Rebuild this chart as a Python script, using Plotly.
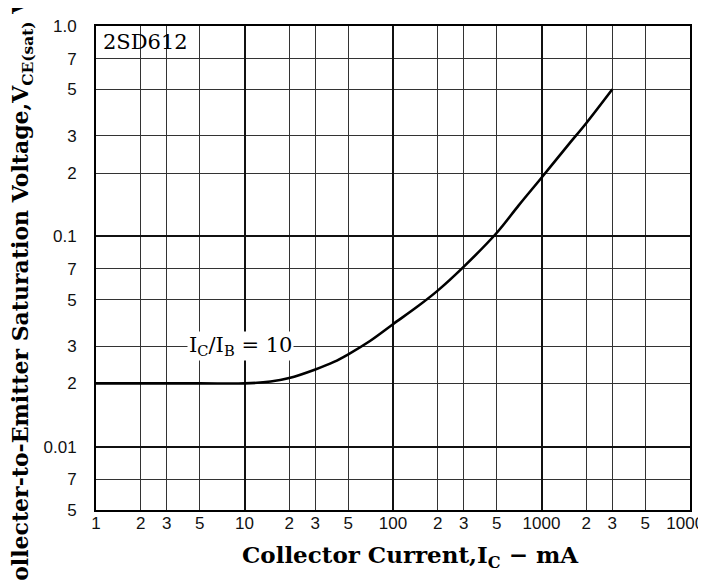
import plotly.graph_objects as go
import numpy as np

# Data
ic_ma = [1, 5, 10, 15, 20, 30, 40, 50, 70, 100, 150, 200, 300, 500, 700, 1000, 1500, 2000, 3000]
vce_sat = [0.02, 0.02, 0.0200, 0.0204, 0.0212, 0.0233, 0.0253, 0.0275, 0.0318, 0.0382, 0.047,
           0.0552, 0.0718, 0.104, 0.140, 0.19, 0.27, 0.345, 0.5]

x_tickvals = [1, 2, 3, 5, 10, 20, 30, 50, 100, 200, 300, 500, 1000, 2000, 3000, 5000, 10000]
x_ticktext = ["1", "2", "3", "5", "10", "2", "3", "5", "100", "2", "3", "5", "1000", "2", "3", "5", "10000"]
y_tickvals = [0.005, 0.007, 0.01, 0.02, 0.03, 0.05, 0.07, 0.1, 0.2, 0.3, 0.5, 0.7, 1.0]
y_ticktext = ["5", "7", "0.01", "2", "3", "5", "7", "0.1", "2", "3", "5", "7", "1.0"]
x_decades = [10, 100, 1000]
y_decades = [0.01, 0.1]

fig = go.Figure()
fig.add_trace(go.Scatter(x=ic_ma, y=vce_sat, mode="lines",
                         line=dict(color="black", width=2.6, shape="spline", smoothing=1.0),
                         showlegend=False, hoverinfo="skip"))
# invisible trace on overlay axes (for heavier decade gridlines)
fig.add_trace(go.Scatter(x=[1], y=[0.01], xaxis="x2", yaxis="y2", mode="markers",
                         marker=dict(opacity=0), showlegend=False, hoverinfo="skip"))

tickfont = dict(family="Liberation Sans", size=17, color="#111")
serif = "DejaVu Serif"

fig.update_layout(
    width=698, height=573,
    margin=dict(l=88, r=16, t=18, b=71, autoexpand=False),
    paper_bgcolor="white", plot_bgcolor="white",
    xaxis=dict(type="log", range=[0, 4], tickvals=x_tickvals, ticktext=x_ticktext,
               tickfont=tickfont, showgrid=True, gridcolor="#333", gridwidth=1,
               showline=True, linecolor="black", linewidth=2, mirror=True, automargin=False,
               ticks="", zeroline=False, ticklabelstandoff=-3, ticklabeloverflow="allow"),
    yaxis=dict(type="log", range=[np.log10(0.005), 0], tickvals=y_tickvals, ticktext=y_ticktext,
               tickfont=tickfont, showgrid=True, gridcolor="#333", gridwidth=1,
               showline=True, linecolor="black", linewidth=2, mirror=True, automargin=False,
               ticks="", zeroline=False, ticklabelstandoff=14),
    xaxis2=dict(type="log", range=[0, 4], overlaying="x", tickvals=x_decades, automargin=False,
                showticklabels=False, showgrid=True, gridcolor="#111", gridwidth=2),
    yaxis2=dict(type="log", range=[np.log10(0.005), 0], overlaying="y", tickvals=y_decades,
                automargin=False,
                showticklabels=False, showgrid=True, gridcolor="#111", gridwidth=2),
)

# type label box in upper-left cell
fig.add_shape(type="rect", xref="x", yref="y", x0=0, x1=1, y0=np.log10(0.7), y1=0,
              fillcolor="white", line=dict(color="black", width=1.5), layer="above")
fig.add_annotation(xref="x", yref="y", x=0, y=np.log10(0.84), text="2SD612",
                   showarrow=False, xanchor="left", yanchor="middle", xshift=5,
                   font=dict(family=serif, size=21, color="black"))
fig.add_annotation(xref="x", yref="y", x=0.97, y=np.log10(0.0302), text="I<sub>C</sub>/I<sub>B</sub> = 10",
                   showarrow=False, xanchor="center", yanchor="middle", bgcolor="white",
                   font=dict(family=serif, size=21, color="black"))
fig.add_annotation(xref="paper", yref="paper", x=0.53, y=-0.097,
                   text="Collector Current,I<sub>C</sub> − mA", showarrow=False,
                   xanchor="center", yanchor="middle",
                   font=dict(family=serif, size=23, color="black", weight="bold"))
fig.add_annotation(xref="paper", yref="paper", x=-0.124, y=0.44, textangle=-90,
                   text="Collecter-to-Emitter Saturation Voltage,V<sub>CE(sat)</sub> V",
                   showarrow=False, xanchor="center", yanchor="middle",
                   font=dict(family=serif, size=22, color="black", weight="bold"))

fig.write_html("out.html")
